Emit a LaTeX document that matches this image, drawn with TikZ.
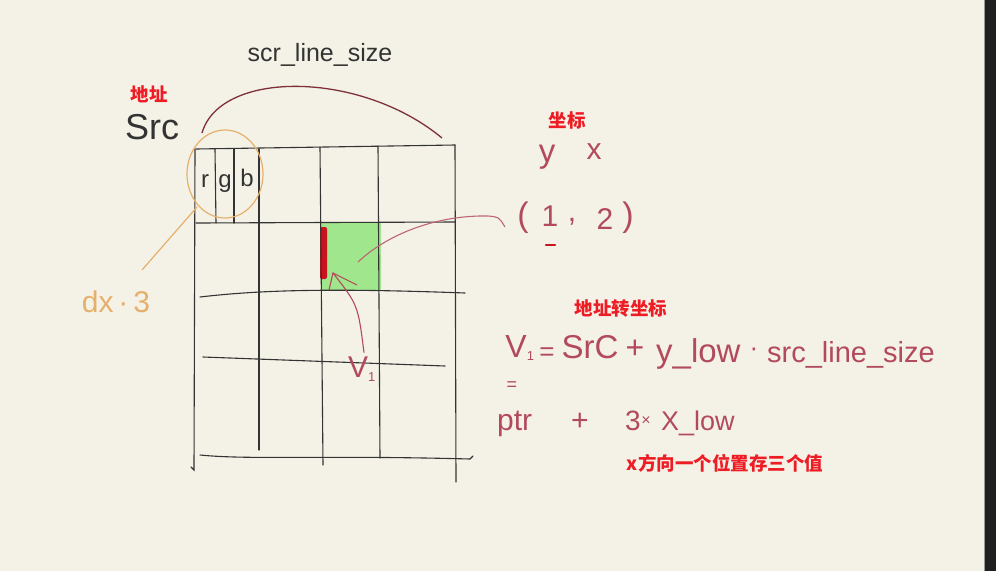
\documentclass[tikz,border=0pt]{standalone}
\usepackage{fontspec}
\setmainfont{Liberation Sans}
\newfontfamily\cjk{Noto Sans CJK SC}
\definecolor{bgc}{HTML}{F4F2E6}
\definecolor{ink}{HTML}{333333}
\definecolor{redc}{HTML}{EE1C25}
\definecolor{rose}{HTML}{B24A5C}
\definecolor{orng}{HTML}{E6B06C}
\definecolor{arcc}{HTML}{7E3038}
\definecolor{greenc}{HTML}{A0E68C}
\definecolor{barc}{HTML}{C8141E}
\begin{document}
\begin{tikzpicture}[x=1pt,y=-1pt,
  grid/.style={draw=ink,line width=1.1pt,line cap=round},
  hand/.style={text=ink,inner sep=0pt},
  rosetxt/.style={text=rose,inner sep=0pt},
  redlab/.style={text=redc,inner sep=0pt,font=\cjk\bfseries\fontsize{18.5}{18.5}\selectfont}]
\useasboundingbox (0,0) rectangle (996,571);
\fill[bgc] (0,0) rectangle (996,571);
\fill[black!88] (985,0) rectangle (996,571);
\draw[black!40,line width=0.6pt] (984,0) -- (984,571);

% green cell and red bar
\fill[greenc] (322,223) rectangle (381,290);
\fill[barc,rounded corners=2pt] (320,227) rectangle (327,279);

% grid
\draw[grid] (196,149) -- (455,145);
\draw[grid] (195,149) -- (194,470) -- (191,467);
\draw[grid] (455,145) -- (456,482);
\draw[grid] (196,223) -- (455,222);
\draw[grid] (200,297) .. controls (260,290) and (330,288) .. (465,293);
\draw[grid] (203,357) -- (445,366);
\draw[grid] (200,455) .. controls (250,460) and (320,455) .. (470,459) -- (473,456);
\draw[grid] (259,149) -- (259,450);
\draw[grid] (320,147) -- (323,465);
\draw[grid] (378,146) -- (380,458);
\draw[grid] (215,149) -- (216,223);
\draw[grid] (234,149) -- (234,223);

% r g b
\node[hand,font=\fontsize{24}{24}\selectfont] (r) at (205,181) {r};
\node[hand,font=\fontsize{24}{24}\selectfont] (g) at (225,184) {g};
\node[hand,font=\fontsize{24}{24}\selectfont] (b) at (247,178) {b};

% orange circle and dx*3
\draw[orng,line width=1.2pt] (225,174) ellipse [x radius=38, y radius=44];
\node[text=orng,inner sep=0pt,font=\fontsize{30}{30}\selectfont] (dx) at (116,302) {dx\,·\,3};
\coordinate (circpt) at (197,207);
\coordinate (dxend) at (142,270);
\draw[orng,line width=1.2pt] (circpt) -- (dxend);

% top arc and labels
\coordinate (arcA) at (202,133);
\coordinate (arcB) at (442,138);
\draw[arcc,line width=1.3pt] (arcA) .. controls (220,70) and (360,70) .. (arcB);
\node[hand,font=\fontsize{25}{25}\selectfont] (linesize) at (320,55) {scr\_line\_size};
\node[redlab] (addr) at (149,94) {地址};
\node[hand,font=\fontsize{36}{36}\selectfont] (src) at (152,127) {Src};

% coordinate labels
\node[redlab] (zb) at (567,120) {坐标};
\node[rosetxt,font=\fontsize{33}{33}\selectfont] (ylab) at (547,157) {y};
\node[rosetxt,font=\fontsize{30}{30}\selectfont] (xlab) at (594,152) {x};
\node[rosetxt,font=\fontsize{34}{34}\selectfont] (lp) at (523,218) {(};
\node[rosetxt,font=\fontsize{30}{30}\selectfont] (one) at (550,216) {1};
\node[rosetxt,font=\fontsize{30}{30}\selectfont] (comma) at (572,222) {,};
\node[rosetxt,font=\fontsize{30}{30}\selectfont] (two) at (605,219) {2};
\node[rosetxt,font=\fontsize{34}{34}\selectfont] (rp) at (628,218) {)};
\draw[barc,line width=2.5pt,line cap=round] (546,245) -- (555,245);

% arrow from (1,2) to the green cell
\coordinate (cellpt) at (358,262);
\coordinate (hookend) at (505,227);
\draw[rose!85,line width=1.1pt] (cellpt) .. controls (390,232) and (440,215) .. (488,216) .. controls (499,217) .. (hookend);

% V1 arrow
\node[rosetxt,font=\fontsize{30}{30}\selectfont] (v1lab) at (362,369) {V\textsubscript{\fontsize{13}{13}\selectfont 1}};
\coordinate (v1tip) at (333,273);
\draw[rose,line width=1.1pt] (v1lab.north) ++(2,-4) .. controls (358,305) .. (v1tip);
\draw[rose,line width=1.1pt] (357,285) -- (v1tip) -- (329,290);

% formula
\node[redlab] (conv) at (621,309) {地址转坐标};
\node[rosetxt,font=\fontsize{32}{32}\selectfont] (V) at (520,348) {V\textsubscript{\fontsize{13}{13}\selectfont 1}};
\node[rosetxt,font=\fontsize{26}{26}\selectfont] (eq) at (547,354) {=};
\node[rosetxt,font=\fontsize{33}{33}\selectfont] (SrC) at (590,347) {SrC};
\node[rosetxt,font=\fontsize{32}{32}\selectfont] (plus1) at (635,349) {+};
\node[rosetxt,font=\fontsize{33}{33}\selectfont,anchor=base west] (ylow) at (656,362) {y\_low};
\node[rosetxt,font=\fontsize{26}{26}\selectfont] (dot) at (754,352) {·};
\node[rosetxt,font=\fontsize{29}{29}\selectfont,anchor=base west] (srcls) at (767,362) {src\_line\_size};
\node[rosetxt,font=\fontsize{18}{18}\selectfont] (eq2) at (512,386) {=};
\node[rosetxt,font=\fontsize{30}{30}\selectfont,anchor=base west] (ptr) at (497,430) {ptr};
\node[rosetxt,font=\fontsize{30}{30}\selectfont] (plus2) at (580,422) {+};
\node[rosetxt,font=\fontsize{28}{28}\selectfont,anchor=base west] (three) at (625,430) {3};
\node[rosetxt,font=\fontsize{16}{16}\selectfont] (times) at (646,421) {×};
\node[rosetxt,font=\fontsize{27}{27}\selectfont,anchor=base west] (xlow) at (661,430) {X\_low};
\node[redlab] (note) at (725,463) {x方向一个位置存三个值};
\end{tikzpicture}
\end{document}
